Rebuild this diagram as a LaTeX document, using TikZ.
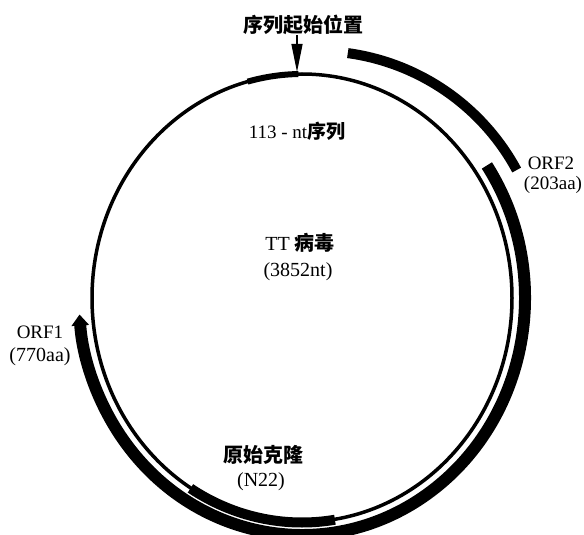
\documentclass[tikz,border=0pt]{standalone}
\usepackage{fontspec}
\setmainfont{Liberation Serif}
\newfontfamily\cjk{Noto Sans CJK SC}
\usetikzlibrary{arrows.meta}
\begin{document}
\begin{tikzpicture}[x=1pt,y=1pt,
  lab/.style={inner sep=0pt, align=center, font=\fontsize{19}{22}\selectfont},
  labb/.style={inner sep=0pt, align=center, font=\fontsize{20}{23}\selectfont},
  genome/.style={line width=3.5pt},
  orfband/.style={line width=12pt},
  orftwo/.style={line width=10pt},
  clone/.style={line width=10pt},
  marker/.style={line width=1.3pt, -{Triangle[length=28pt,width=11pt]}}
]
\useasboundingbox (0,0) rectangle (584,-535);
\coordinate (c) at (302,-298);
\coordinate (c2) at (317,-278);
% genome circle
\draw[genome] (c) ellipse [x radius=210pt, y radius=224pt];
% 113-nt region
\draw[line width=6pt] ([shift={(105:210pt and 224pt)}]c) arc[start angle=105, end angle=91, x radius=210pt, y radius=224pt];
% ORF1
\draw[orfband, -{Triangle[length=11pt,width=17pt]}] ([shift={(34:223pt and 237pt)}]c) arc[start angle=34, end angle=-176, x radius=223pt, y radius=237pt];
% ORF2
\draw[orftwo] ([shift={(82.2:227pt)}]c2) arc[start angle=82.2, end angle=28.4, radius=227pt];
% original clone N22
\draw[clone] ([shift={(-122:210.5pt and 224.5pt)}]c) arc[start angle=-122, end angle=-81, x radius=210.5pt, y radius=224.5pt];
% labels
\node[labb] (lstart) at (303,-25) {\cjk\bfseries 序列起始位置};
\coordinate (tip) at (297,-72);
\draw[marker] (tip |- lstart.south) -- (tip);
\node[lab] (lnt) at (297,-131) {113 - nt{\cjk\bfseries 序列}};
\node[lab] (lorf2) at (551,-163) {ORF2};
\node[lab] (lorf2b) at (553,-185) {(203aa)};
\node[labb] (ltt) at (300,-243) {TT {\cjk\bfseries 病毒}};
\node[labb] (lttb) at (298,-272) {(3852nt)};
\node[lab] (lorf1) at (40,-332) {ORF1};
\node[labb] (lorf1b) at (40,-357) {(770aa)};
\node[labb] (lclone) at (263,-455) {\cjk\bfseries 原始克隆};
\node[labb] (lcloneb) at (261,-482) {(N22)};
\end{tikzpicture}
\end{document}
